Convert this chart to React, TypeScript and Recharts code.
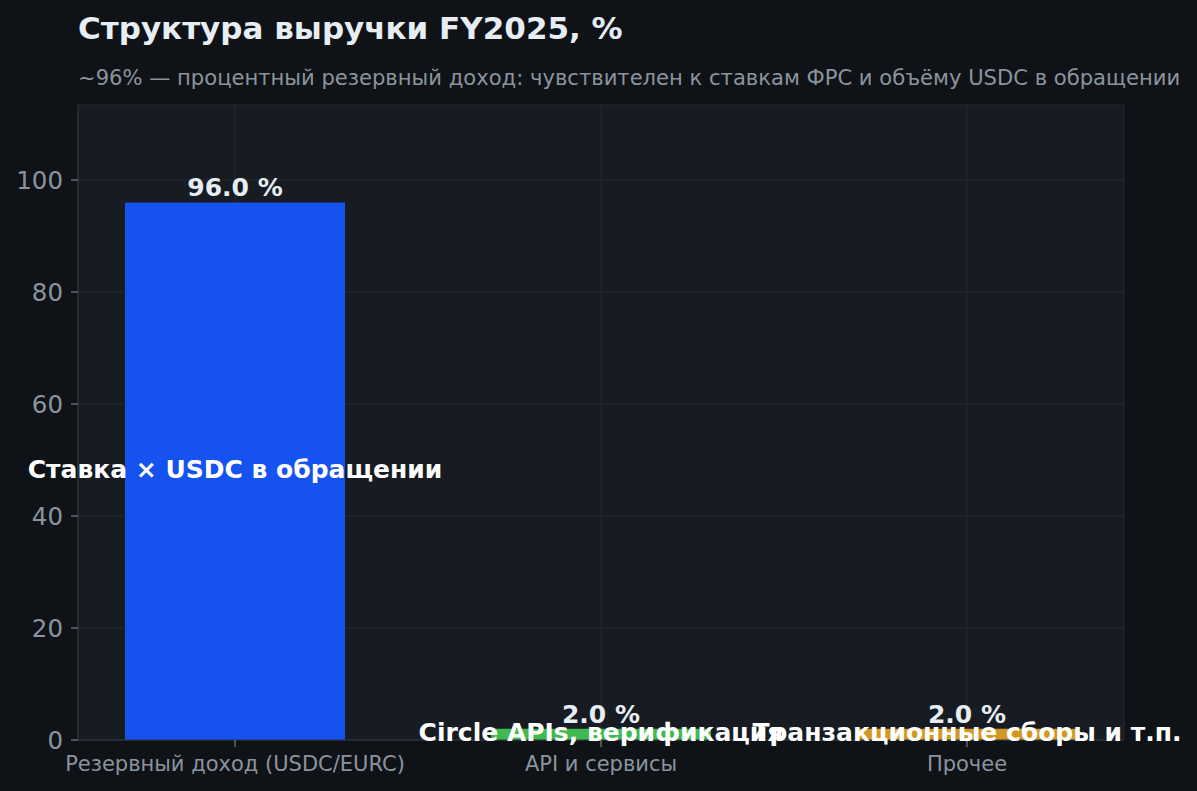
import React from 'react';
import {
  BarChart, Bar, XAxis, YAxis, CartesianGrid, Cell, LabelList,
} from 'recharts';

const CATEGORIES = ['Резервный доход (USDC/EURC)', 'API и сервисы', 'Прочее'];
const SHARES = [96.0, 2.0, 2.0];
const NOTES = ['Ставка × USDC в обращении', 'Circle APIs, верификация', 'Транзакционные сборы и т.п.'];
const BAR_COLORS = ['#1652f0', '#3fb950', '#d29922'];
const Y_TICKS = [0, 20, 40, 60, 80, 100];

const TITLE = 'Структура выручки FY2025, %';
const SUBTITLE = '~96% — процентный резервный доход: чувствителен к ставкам ФРС и объёму USDC в обращении';

const data = CATEGORIES.map((name, i) => ({
  x: i,
  name,
  share: SHARES[i],
  note: NOTES[i],
}));

const FONT = '"DejaVu Sans", sans-serif';

// inner note, drawn in one line at the bar's centre (no wrapping)
const NoteLabel = (props: any) => {
  const { x, y, width, height, value } = props;
  return (
    <text
      x={Number(x) + Number(width) / 2}
      y={Number(y) + Number(height) / 2 - 2}
      textAnchor="middle"
      dominantBaseline="central"
      fill="#ffffff"
      fontSize={25}
      fontWeight="bold"
      fontFamily={FONT}
    >
      {value}
    </text>
  );
};

export default function App() {
  return (
    <div
      style={{
        position: 'absolute',
        left: 0,
        top: 0,
        width: 1197,
        height: 791,
        background: '#0f1317',
        fontFamily: FONT,
        overflow: 'hidden',
      }}
    >
      <div
        style={{
          position: 'absolute',
          left: 78,
          top: 10,
          fontSize: 31,
          fontWeight: 'bold',
          color: '#e6edf3',
          whiteSpace: 'nowrap',
        }}
      >
        {TITLE}
      </div>
      <div
        style={{
          position: 'absolute',
          left: 78,
          top: 65,
          fontSize: 21.1,
          color: '#8b949e',
          whiteSpace: 'nowrap',
        }}
      >
        {SUBTITLE}
      </div>
      <BarChart
        width={1197}
        height={791}
        data={data}
        margin={{ top: 105, right: 73, bottom: 11, left: 18 }}
        style={{ position: 'absolute', left: 0, top: 0 }}
      >
        <CartesianGrid fill="#171b22" stroke="#262b33" strokeWidth={1} />
        <XAxis
          dataKey="x"
          type="number"
          domain={[-0.429, 2.429]}
          ticks={[0, 1, 2]}
          tickFormatter={(v: number) => CATEGORIES[v] ?? ''}
          height={40}
          tickSize={7}
          tickMargin={9}
          stroke="#30363d"
          tick={{ fill: '#8b949e', fontSize: 21, fontFamily: FONT }}
          tickLine={{ stroke: '#8b949e' }}
          allowDataOverflow
        />
        <YAxis
          type="number"
          domain={[0, 113.4]}
          ticks={Y_TICKS}
          width={60}
          tickSize={7}
          tickMargin={8}
          stroke="#30363d"
          tick={{ fill: '#8b949e', fontSize: 24.5, fontFamily: FONT }}
          tickLine={{ stroke: '#8b949e' }}
          allowDataOverflow
        />
        <Bar dataKey="share" barSize={220} isAnimationActive={false}>
          {data.map((d, i) => (
            <Cell key={`cell-${i}`} fill={BAR_COLORS[i]} />
          ))}
          <LabelList
            dataKey="share"
            position="top"
            offset={6}
            formatter={(v: any) => `${Number(v).toFixed(1)} %`}
            style={{ fill: '#e6edf3', fontSize: 25, fontWeight: 'bold', fontFamily: FONT }}
          />
          <LabelList dataKey="note" content={NoteLabel} />
        </Bar>
      </BarChart>
    </div>
  );
}
